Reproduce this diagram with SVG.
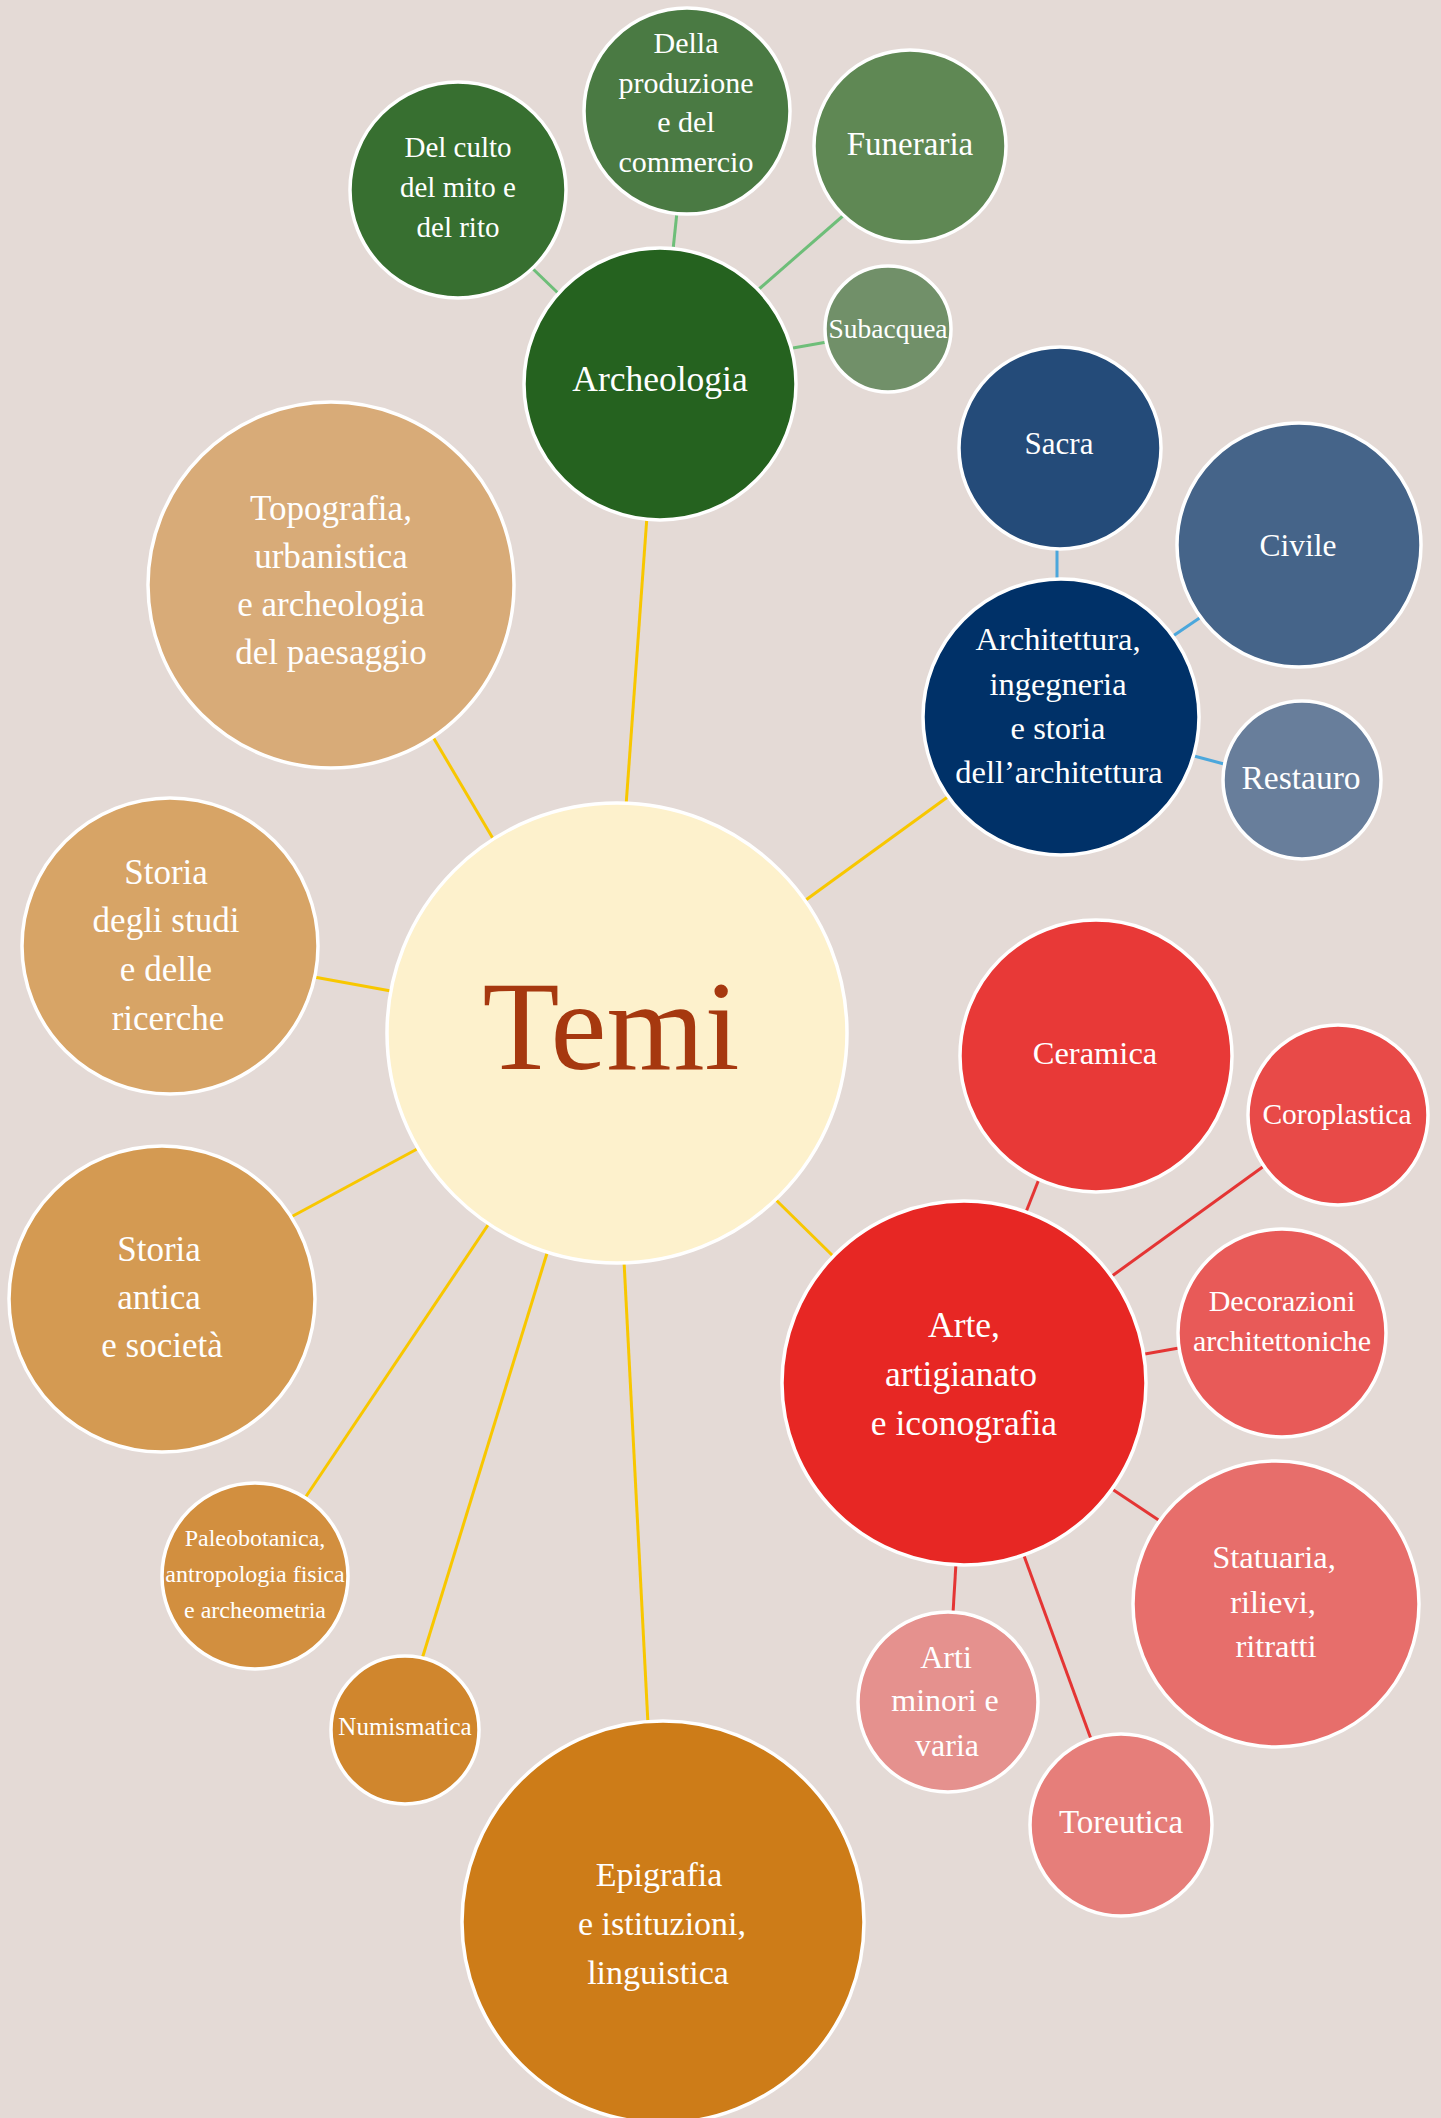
<svg xmlns="http://www.w3.org/2000/svg" width="1441" height="2118" viewBox="0 0 1441 2118">
<style>
.bg{fill:#E4DAD6}
.n circle{stroke:#FFFFFF;stroke-width:3.5}
.n text{font-family:"Liberation Serif","Times New Roman",serif;fill:#FFFFFF;text-anchor:middle}
.c line{stroke-width:3;fill:none}
.y{stroke:#F8C700}
.g{stroke:#6EBE79}
.b{stroke:#4BA7DC}
.r{stroke:#E43534}
</style>
<rect class="bg" x="0" y="0" width="1441" height="2118"/>
<g id="connectors" class="c">
<line class="y" x1="647" y1="516" x2="626" y2="806"/>
<line class="y" x1="433" y1="737" x2="495" y2="842"/>
<line class="y" x1="314" y1="977" x2="391" y2="991"/>
<line class="y" x1="291" y1="1217" x2="419" y2="1148"/>
<line class="y" x1="305" y1="1498" x2="492" y2="1219"/>
<line class="y" x1="422" y1="1659" x2="548" y2="1250"/>
<line class="y" x1="624" y1="1261" x2="648" y2="1724"/>
<line class="y" x1="774" y1="1198" x2="834" y2="1257"/>
<line class="y" x1="803" y1="902" x2="949" y2="796"/>
<line class="g" x1="531" y1="267" x2="559" y2="294"/>
<line class="g" x1="677" y1="212" x2="673" y2="250"/>
<line class="g" x1="844" y1="215" x2="759" y2="289"/>
<line class="g" x1="827" y1="342" x2="793" y2="348"/>
<line class="b" x1="1057" y1="547" x2="1057" y2="582"/>
<line class="b" x1="1201" y1="617" x2="1173" y2="636"/>
<line class="b" x1="1224" y1="764" x2="1194" y2="756"/>
<line class="r" x1="1039" y1="1179" x2="1026" y2="1212"/>
<line class="r" x1="1264" y1="1166" x2="1112" y2="1276"/>
<line class="r" x1="1179" y1="1348" x2="1145" y2="1354"/>
<line class="r" x1="1112" y1="1489" x2="1160" y2="1521"/>
<line class="r" x1="1023" y1="1553" x2="1091" y2="1739"/>
<line class="r" x1="956" y1="1563" x2="953" y2="1613"/>
</g>
<g id="temi" class="n"><circle cx="617" cy="1033" r="230" fill="#FDF1CC"/><text x="611" y="1069" font-size="126" style="fill:#A6380F">Temi</text></g>
<g id="archeologia" class="n"><circle cx="660" cy="384" r="136" fill="#25621F"/><text x="660" y="391" font-size="35.5">Archeologia</text></g>
<g id="culto" class="n"><circle cx="458" cy="190" r="108" fill="#376F30"/><text font-size="29"><tspan x="458" y="157">Del culto</tspan><tspan x="458" y="197">del mito e</tspan><tspan x="458" y="237">del rito</tspan></text></g>
<g id="produzione" class="n"><circle cx="687" cy="111" r="103" fill="#4A7A43"/><text font-size="30"><tspan x="686" y="53">Della</tspan><tspan x="686" y="93">produzione</tspan><tspan x="686" y="132">e del</tspan><tspan x="686" y="172">commercio</tspan></text></g>
<g id="funeraria" class="n"><circle cx="910" cy="146" r="96" fill="#5F8854"/><text x="910" y="155" font-size="33">Funeraria</text></g>
<g id="subacquea" class="n"><circle cx="888" cy="329" r="63" fill="#719069"/><text x="888" y="338" font-size="27.5">Subacquea</text></g>
<g id="topografia" class="n"><circle cx="331" cy="585" r="183" fill="#D8AB78"/><text font-size="35"><tspan x="331" y="520">Topografia,</tspan><tspan x="331" y="568">urbanistica</tspan><tspan x="331" y="616">e archeologia</tspan><tspan x="331" y="664">del paesaggio</tspan></text></g>
<g id="storia-studi" class="n"><circle cx="170" cy="946" r="148" fill="#D7A466"/><text font-size="35"><tspan x="166" y="884">Storia</tspan><tspan x="166" y="932">degli studi</tspan><tspan x="166" y="981">e delle</tspan><tspan x="168" y="1030">ricerche</tspan></text></g>
<g id="storia-antica" class="n"><circle cx="162" cy="1299" r="153" fill="#D49A52"/><text font-size="35"><tspan x="159" y="1261">Storia</tspan><tspan x="159" y="1309">antica</tspan><tspan x="162" y="1357">e società</tspan></text></g>
<g id="paleobotanica" class="n"><circle cx="255" cy="1576" r="93" fill="#D28F3F"/><text font-size="24"><tspan x="255" y="1546">Paleobotanica,</tspan><tspan x="255" y="1582">antropologia fisica</tspan><tspan x="255" y="1618">e archeometria</tspan></text></g>
<g id="numismatica" class="n"><circle cx="405" cy="1730" r="74" fill="#D0862D"/><text x="405" y="1735" font-size="25">Numismatica</text></g>
<g id="epigrafia" class="n"><circle cx="663" cy="1922" r="201" fill="#CD7C18"/><text font-size="34"><tspan x="659" y="1886">Epigrafia</tspan><tspan x="662" y="1935">e istituzioni,</tspan><tspan x="658" y="1984">linguistica</tspan></text></g>
<g id="architettura" class="n"><circle cx="1061" cy="717" r="138" fill="#003168"/><text font-size="32.5"><tspan x="1058" y="650">Architettura,</tspan><tspan x="1058" y="695">ingegneria</tspan><tspan x="1058" y="739">e storia</tspan><tspan x="1059" y="783">dell’architettura</tspan></text></g>
<g id="sacra" class="n"><circle cx="1060" cy="448" r="101" fill="#244B79"/><text x="1059" y="454" font-size="31">Sacra</text></g>
<g id="civile" class="n"><circle cx="1299" cy="545" r="122" fill="#456489"/><text x="1298" y="556" font-size="31.5">Civile</text></g>
<g id="restauro" class="n"><circle cx="1302" cy="780" r="79" fill="#687E9B"/><text x="1301" y="789" font-size="33.5">Restauro</text></g>
<g id="ceramica" class="n"><circle cx="1096" cy="1056" r="136" fill="#E83937"/><text x="1095" y="1064" font-size="32.5">Ceramica</text></g>
<g id="coroplastica" class="n"><circle cx="1338" cy="1115" r="90" fill="#E84A48"/><text x="1337" y="1124" font-size="29.5">Coroplastica</text></g>
<g id="decorazioni" class="n"><circle cx="1282" cy="1333" r="104" fill="#E85A58"/><text font-size="30"><tspan x="1282" y="1311">Decorazioni</tspan><tspan x="1282" y="1351">architettoniche</tspan></text></g>
<g id="arte" class="n"><circle cx="964" cy="1383" r="182" fill="#E72724"/><text font-size="35.5"><tspan x="964" y="1337">Arte,</tspan><tspan x="961" y="1386">artigianato</tspan><tspan x="964" y="1435">e iconografia</tspan></text></g>
<g id="statuaria" class="n"><circle cx="1276" cy="1604" r="143" fill="#E76E6B"/><text font-size="32.5"><tspan x="1274" y="1568">Statuaria,</tspan><tspan x="1273" y="1613">rilievi,</tspan><tspan x="1276" y="1657">ritratti</tspan></text></g>
<g id="toreutica" class="n"><circle cx="1121" cy="1825" r="91" fill="#E67E7A"/><text x="1121" y="1833" font-size="33">Toreutica</text></g>
<g id="arti-minori" class="n"><circle cx="948" cy="1702" r="90" fill="#E5918E"/><text font-size="32"><tspan x="946" y="1668">Arti</tspan><tspan x="945" y="1711">minori e</tspan><tspan x="947" y="1756">varia</tspan></text></g>
</svg>
